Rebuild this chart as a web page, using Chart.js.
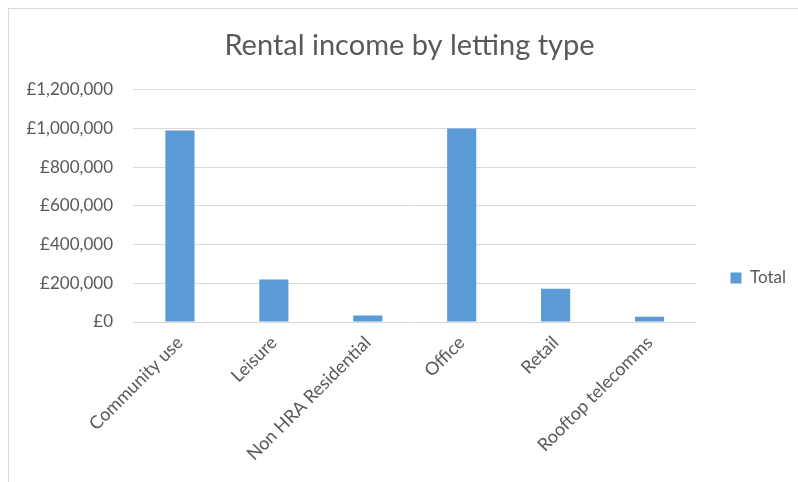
<!DOCTYPE html>
<html>
<head>
<meta charset="utf-8">
<script src="https://cdn.jsdelivr.net/npm/chart.js@4/dist/chart.umd.min.js"></script>
<style>
  html, body { margin: 0; padding: 0; background: #ffffff; }
  #frame { position: absolute; left: 8px; top: 8px; right: -2px; bottom: -2px; border-left: 1px solid #d9d9d9; border-top: 1px solid #d9d9d9; }
  #wrap { position: absolute; left: 0; top: 0; width: 798px; height: 482px; }
  canvas { display: block; }
</style>
</head>
<body>
<div id="frame"></div>
<div id="wrap"><canvas id="c"></canvas></div>
<script>
const categories = ["Community use", "Leisure", "Non HRA Residential", "Office", "Retail", "Rooftop telecomms"];
const totals = [990000, 219000, 33000, 1000000, 172000, 27000];
const seriesName = "Total";
const yTicks = [0, 200000, 400000, 600000, 800000, 1000000, 1200000];

const fontFam = "Lato, 'Open Sans', sans-serif";
const textColor = "#595959";

new Chart(document.getElementById('c'), {
  type: 'bar',
  data: {
    labels: categories,
    datasets: [{
      label: seriesName,
      data: totals,
      backgroundColor: '#5b9bd5',
      borderWidth: 0,
      barPercentage: 0.31,
      categoryPercentage: 1.0
    }]
  },
  options: {
    responsive: true,
    maintainAspectRatio: false,
    animation: false,
    layout: { padding: { left: 23, right: 2, top: 0, bottom: 0 } },
    plugins: {
      title: {
        display: true,
        text: "Rental income by letting type",
        color: textColor,
        font: { family: fontFam, size: 29, weight: 'normal' },
        padding: { top: 28, bottom: 27 }
      },
      legend: {
        position: 'right',
        title: {
          display: true,
          text: ' ',
          font: { family: fontFam, size: 10 },
          padding: { top: 62, bottom: 0 }
        },
        labels: {
          color: textColor,
          font: { family: fontFam, size: 17 },
          boxWidth: 11,
          boxHeight: 11,
          padding: 10
        }
      },
      tooltip: { enabled: false }
    },
    scales: {
      x: {
        grid: { display: false, drawTicks: false },
        border: { display: false },
        afterFit: (s) => { s.height = 160; },
        ticks: {
          color: textColor,
          font: { family: fontFam, size: 18 },
          maxRotation: 45,
          minRotation: 45,
          padding: 10,
          autoSkip: false
        }
      },
      y: {
        min: 0,
        max: 1200000,
        afterBuildTicks: (axis) => { axis.ticks = yTicks.map(v => ({ value: v })); },
        afterFit: (s) => { s.width = 110; },
        grid: { color: '#d9d9d9', lineWidth: 1, drawTicks: false },
        border: { display: false },
        ticks: {
          color: textColor,
          font: { family: fontFam, size: 17 },
          padding: 20,
          callback: (v) => '£' + Number(v).toLocaleString('en-GB')
        }
      },
      gap: {
        type: 'linear',
        position: 'right',
        display: true,
        afterFit: (s) => { s.width = 24; },
        grid: { display: false, drawTicks: false },
        border: { display: false },
        ticks: { display: false }
      }
    }
  }
});
</script>
</body>
</html>
